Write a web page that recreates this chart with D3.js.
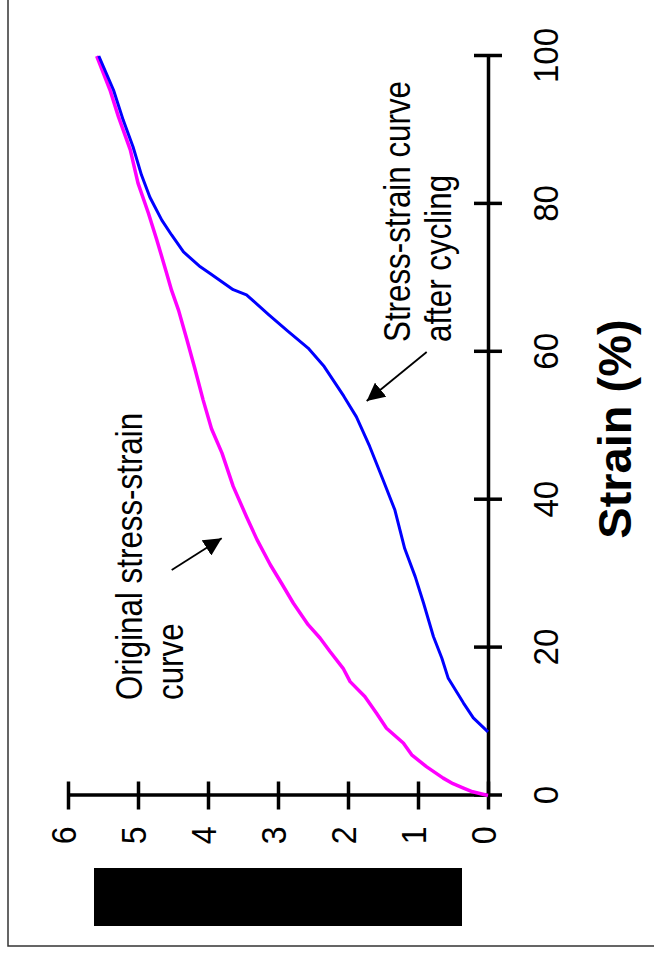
<!DOCTYPE html>
<html>
<head>
<meta charset="utf-8">
<script src="https://cdn.jsdelivr.net/npm/d3@7"></script>
<style>
  body { margin: 0; background: #fff; }
  text { font-family: "Liberation Sans", Arial, sans-serif; }
</style>
</head>
<body>
<div id="chart-area"></div>
<script>
var w = 654;
var h = 962;

// data (strain in %, stress)
var strainTicks = [0, 20, 40, 60, 80, 100];
var stressTicks = [0, 1, 2, 3, 4, 5, 6];

var originalStrain = [0, 0.5, 1.0, 1.6, 2.35, 3.9, 5.5, 7.1, 9.1, 11.1, 13.4, 15.4, 17.2, 19.5, 21.3, 23.1, 26.0, 28.7, 31.2, 34.6, 37.7, 41.8, 46.3, 49.6, 53.5, 57.8, 61.6, 65.6, 68.3, 70.6, 75.1, 78.7, 82.8, 87.3, 91.8, 95.4, 100];
var originalStress = [0, 0.22, 0.35, 0.5, 0.64, 0.88, 1.09, 1.21, 1.45, 1.59, 1.76, 1.97, 2.07, 2.26, 2.40, 2.57, 2.78, 2.95, 3.11, 3.30, 3.45, 3.64, 3.80, 3.95, 4.07, 4.19, 4.30, 4.42, 4.52, 4.59, 4.73, 4.85, 5.00, 5.11, 5.28, 5.40, 5.59];

var cycledStrain = [8.6, 10.5, 12.5, 15.9, 18.6, 21.5, 26.0, 29.6, 33.4, 38.6, 42.7, 47.2, 51.2, 54.0, 58.0, 60.5, 62.8, 65.0, 67.7, 68.4, 70.6, 71.5, 73.5, 75.8, 77.8, 80.9, 83.9, 87.7, 91.3, 95.4, 100];
var cycledStress = [0, 0.21, 0.35, 0.57, 0.66, 0.78, 0.92, 1.04, 1.19, 1.33, 1.50, 1.69, 1.88, 2.06, 2.34, 2.57, 2.86, 3.13, 3.45, 3.64, 3.97, 4.11, 4.35, 4.52, 4.66, 4.83, 4.95, 5.07, 5.21, 5.35, 5.56];

var svg = d3.select('#chart-area').append('svg')
        .attr('width', w)
        .attr('height', h);

svg.append('defs').append('marker')
    .attr('id', 'head')
    .attr('markerUnits', 'userSpaceOnUse')
    .attr('markerWidth', 20)
    .attr('markerHeight', 18)
    .attr('refX', 18)
    .attr('refY', 9)
    .attr('orient', 'auto')
    .append('path')
    .attr('d', 'M0,0 L18,9 L0,18 z')
    .attr('fill', '#000');

// the whole figure is turned a quarter turn, so draw it upright and rotate
var g = svg.append('g')
        .attr('transform', 'translate(0,' + h + ') rotate(-90)');

// frame
g.append('rect')
    .attr('x', 16)
    .attr('y', 8)
    .attr('width', 1000)
    .attr('height', 700)
    .attr('fill', 'none')
    .attr('stroke', '#333')
    .attr('stroke-width', 1.5);

var x = d3.scaleLinear().domain([0, 100]).range([166.5, 906]);
var y = d3.scaleLinear().domain([0, 6]).range([488, 68]);

var xAxis = g.append('g')
    .attr('transform', 'translate(0,488)')
    .call(d3.axisBottom(x).tickValues(strainTicks).tickSizeInner(14).tickSizeOuter(0));
xAxis.selectAll('.tick line').attr('y1', -14).attr('y2', 14);
xAxis.selectAll('.tick text')
    .attr('y', 70)
    .attr('dy', 0)
    .attr('transform', 'scale(0.92,1)')
    .attr('font-size', 36)
    .attr('fill', '#000');

var yAxis = g.append('g')
    .attr('transform', 'translate(166.5,0)')
    .call(d3.axisLeft(y).tickValues(stressTicks).tickFormat(d3.format('d')).tickSizeInner(14).tickSizeOuter(0));
yAxis.selectAll('.tick line').attr('x1', 14).attr('x2', -14);
yAxis.selectAll('.tick text')
    .attr('x', -33.5)
    .attr('y', 7)
    .attr('dy', 0)
    .attr('transform', 'scale(0.92,1)')
    .attr('font-size', 35)
    .attr('fill', '#000');

g.selectAll('.domain, .tick line')
    .attr('stroke', '#000')
    .attr('stroke-width', 3.5);

var line = d3.line()
    .x(function(d){ return x(d[0]); })
    .y(function(d){ return y(d[1]); });

g.append('path')
    .datum(d3.zip(originalStrain, originalStress))
    .attr('d', line)
    .attr('fill', 'none')
    .attr('stroke', '#ff00ff')
    .attr('stroke-width', 3.5)
    .attr('stroke-linejoin', 'round');

g.append('path')
    .datum(d3.zip(cycledStrain, cycledStress))
    .attr('d', line)
    .attr('fill', 'none')
    .attr('stroke', '#0000ff')
    .attr('stroke-width', 3)
    .attr('stroke-linejoin', 'round');

// axis title (the stress title is blacked out in the source)
g.append('text')
    .attr('x', 533)
    .attr('y', 631)
    .attr('text-anchor', 'middle')
    .attr('font-size', 47)
    .attr('font-weight', 'bold')
    .text('Strain (%)');

g.append('rect')
    .attr('x', 36)
    .attr('y', 94)
    .attr('width', 58)
    .attr('height', 368)
    .attr('fill', '#000');

// annotations
var notes = [
  {text: 'Stress-strain curve', u: 620, v: 410},
  {text: 'after cycling', u: 620, v: 451},
  {text: 'Original stress-strain', u: 262, v: 142},
  {text: 'curve', u: 262, v: 183}
];
g.selectAll('.note')
    .data(notes)
    .enter()
    .append('text')
    .attr('class', 'note')
    .attr('transform', function(d){ return 'translate(' + d.u + ',' + d.v + ') scale(0.87,1)'; })
    .attr('font-size', 36)
    .text(function(d){ return d.text; });

var arrows = [
  [610, 426.7, 561, 366.7],
  [392, 171.7, 423.7, 221.7]
];
g.selectAll('.arrow')
    .data(arrows)
    .enter()
    .append('line')
    .attr('class', 'arrow')
    .attr('x1', function(d){ return d[0]; })
    .attr('y1', function(d){ return d[1]; })
    .attr('x2', function(d){ return d[2]; })
    .attr('y2', function(d){ return d[3]; })
    .attr('stroke', '#000')
    .attr('stroke-width', 1.8)
    .attr('marker-end', 'url(#head)');
</script>
</body>
</html>
